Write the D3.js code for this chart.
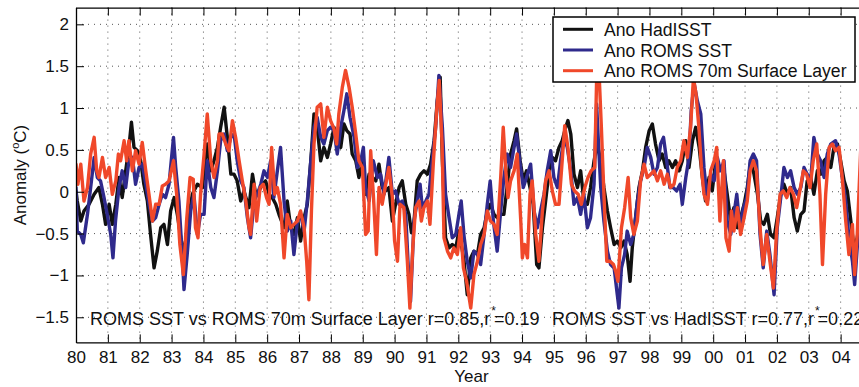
<!DOCTYPE html>
<html>
<head>
<meta charset="utf-8">
<script src="https://cdn.jsdelivr.net/npm/d3@7"></script>
<style>
  html, body { margin: 0; padding: 0; background: #fff; }
  svg { display: block; font-family: "Liberation Sans", Arial, Helvetica, sans-serif; }
</style>
</head>
<body>
<svg id="chart" width="859" height="387"></svg>
<script>
// ---------------- data (decimal year, anomaly °C) ----------------
const hadisst = [
[1980.00,0.01],[1980.04,-0.11],[1980.15,-0.35],[1980.25,-0.23],[1980.41,-0.15],[1980.57,-0.03],[1980.72,0.05],[1980.83,-0.15],[1980.93,-0.39],
[1981.04,-0.15],[1981.14,-0.39],[1981.25,-0.15],[1981.35,0.17],[1981.45,-0.07],[1981.56,0.25],[1981.66,0.53],[1981.74,0.83],[1981.82,0.53],[1981.93,0.49],
[1982.03,0.37],[1982.13,0.09],[1982.24,-0.11],[1982.34,-0.51],[1982.45,-0.91],[1982.55,-0.71],[1982.66,-0.43],[1982.76,-0.39],[1982.87,-0.63],[1982.97,-0.23],
[1983.08,-0.07],[1983.18,-0.27],[1983.29,-0.55],[1983.39,-0.75],[1983.49,-0.43],[1983.65,-0.03],[1983.81,0.09],[1983.97,0.05],
[1984.02,0.25],[1984.12,0.57],[1984.23,0.25],[1984.33,0.37],[1984.44,0.53],[1984.54,0.77],[1984.65,1.01],[1984.75,0.65],[1984.86,0.21],[1984.96,0.21],
[1985.06,0.13],[1985.17,-0.11],[1985.27,0.01],[1985.43,-0.19],[1985.54,0.21],[1985.64,-0.03],[1985.74,0.01],[1985.85,0.09],[1985.95,0.13],
[1986.06,-0.03],[1986.16,-0.07],[1986.27,-0.15],[1986.37,-0.27],[1986.53,-0.43],[1986.63,-0.11],[1986.74,-0.43],[1986.84,-0.51],[1986.95,-0.31],
[1987.05,-0.59],[1987.16,-0.31],[1987.26,-0.15],[1987.37,0.37],[1987.47,0.93],[1987.57,0.77],[1987.68,0.37],[1987.78,0.53],[1987.89,0.41],[1987.99,0.57],
[1988.10,0.77],[1988.20,0.61],[1988.31,0.53],[1988.41,0.81],[1988.50,0.73],[1988.60,0.69],[1988.67,0.45],[1988.78,0.37],[1988.88,0.17],[1988.99,0.37],
[1989.09,-0.03],[1989.20,0.21],[1989.30,0.17],[1989.41,0.13],[1989.51,0.33],[1989.61,0.05],[1989.72,0.01],[1989.82,0.05],[1989.93,-0.35],
[1990.03,-0.15],[1990.14,0.05],[1990.24,0.13],[1990.35,-0.15],[1990.45,-0.27],[1990.53,-0.49],[1990.61,-0.35],[1990.71,0.13],[1990.82,0.21],[1990.92,0.25],
[1991.03,0.21],[1991.13,0.33],[1991.24,0.61],[1991.34,1.09],[1991.43,1.37],[1991.50,0.37],[1991.60,-0.55],[1991.71,-0.67],[1991.81,-0.63],[1991.92,-0.67],
[1992.02,-0.47],[1992.13,-0.71],[1992.18,-0.83],[1992.28,-1.23],[1992.39,-0.79],[1992.49,-0.71],[1992.60,-0.75],[1992.70,-0.51],[1992.81,-0.43],[1992.91,-0.23],
[1993.01,-0.15],[1993.12,-0.27],[1993.22,-0.31],[1993.33,-0.27],[1993.43,-0.27],[1993.54,0.09],[1993.64,0.45],[1993.75,0.61],[1993.83,0.75],[1993.94,0.37],
[1994.04,0.13],[1994.14,0.25],[1994.25,0.05],[1994.35,-0.15],[1994.46,-0.87],[1994.53,-0.91],[1994.64,-0.43],[1994.74,-0.11],[1994.85,0.25],[1994.95,0.41],
[1995.05,0.37],[1995.16,0.53],[1995.26,0.61],[1995.37,0.77],[1995.44,0.85],[1995.53,0.69],[1995.63,0.21],[1995.74,0.05],[1995.84,0.25],[1995.94,-0.11],
[1996.05,-0.15],[1996.15,0.05],[1996.26,0.37],[1996.36,0.57],[1996.47,0.37],[1996.57,0.05],[1996.68,-0.23],[1996.78,-0.43],[1996.89,-0.63],[1996.99,-0.59],
[1997.10,-0.67],[1997.20,-0.59],[1997.30,-0.75],[1997.39,-1.07],[1997.46,-0.67],[1997.55,-0.35],[1997.67,0.05],[1997.78,0.25],[1997.88,0.53],[1997.99,0.73],
[1998.09,0.81],[1998.19,0.57],[1998.30,0.37],[1998.40,0.45],[1998.51,0.29],[1998.61,0.37],[1998.72,0.29],[1998.82,0.37],[1998.93,0.25],
[1999.03,0.37],[1999.14,0.61],[1999.24,0.29],[1999.35,0.61],[1999.45,0.77],[1999.56,0.53],[1999.66,0.17],[1999.76,-0.11],[1999.87,0.17],[1999.97,0.01],
[2000.08,0.37],[2000.18,0.25],[2000.29,0.29],[2000.34,0.25],[2000.44,-0.03],[2000.55,-0.35],[2000.65,-0.19],[2000.76,-0.43],[2000.86,-0.31],[2000.97,-0.15],
[2001.07,0.05],[2001.18,0.37],[2001.28,0.21],[2001.39,-0.03],[2001.49,-0.35],[2001.59,-0.39],[2001.70,-0.27],[2001.80,-0.51],[2001.91,-0.55],
[2002.01,-0.31],[2002.12,-0.03],[2002.22,0.09],[2002.33,-0.03],[2002.43,0.05],[2002.54,-0.31],[2002.64,-0.47],[2002.75,-0.27],[2002.85,-0.23],[2002.95,0.13],
[2003.06,0.17],[2003.16,-0.03],[2003.27,0.25],[2003.37,0.21],[2003.48,0.37],[2003.58,0.41],[2003.69,0.29],[2003.79,0.53],[2003.90,0.57],
[2004.00,0.37],[2004.11,0.13],[2004.21,0.01],[2004.32,-0.35],[2004.42,-0.67],[2004.52,-0.55],[2004.63,-0.30]
];

const romsSST = [
[1980.00,0.05],[1980.04,-0.47],[1980.15,-0.51],[1980.23,-0.61],[1980.36,-0.27],[1980.46,0.05],[1980.57,0.41],[1980.67,0.17],[1980.77,0.13],[1980.88,-0.07],[1980.98,-0.27],
[1981.09,-0.51],[1981.16,-0.79],[1981.24,-0.35],[1981.35,0.05],[1981.45,0.25],[1981.56,0.05],[1981.66,0.37],[1981.77,0.41],[1981.87,0.09],[1981.98,0.29],
[1982.08,0.33],[1982.19,0.09],[1982.29,-0.15],[1982.40,-0.35],[1982.50,-0.31],[1982.61,-0.15],[1982.71,-0.03],[1982.81,-0.07],[1982.92,0.09],
[1983.06,0.65],[1983.13,0.29],[1983.23,-0.11],[1983.34,-0.79],[1983.39,-1.17],[1983.49,-0.75],[1983.60,-0.23],[1983.70,-0.03],[1983.81,-0.51],[1983.91,-0.27],
[1984.02,-0.27],[1984.12,0.37],[1984.23,0.05],[1984.33,-0.07],[1984.44,0.25],[1984.54,0.61],[1984.65,0.69],[1984.75,0.49],[1984.86,0.65],[1984.96,0.69],
[1985.06,0.37],[1985.17,0.13],[1985.27,0.05],[1985.38,-0.31],[1985.48,-0.55],[1985.59,-0.11],[1985.69,-0.03],[1985.80,0.09],[1985.90,0.25],
[1986.01,0.17],[1986.11,0.37],[1986.21,-0.07],[1986.32,0.25],[1986.42,0.53],[1986.53,-0.11],[1986.63,-0.47],[1986.74,-0.35],[1986.84,-0.75],[1986.95,-0.35],
[1987.05,-0.27],[1987.16,-0.47],[1987.26,-0.11],[1987.37,0.37],[1987.47,0.77],[1987.57,0.89],[1987.68,0.65],[1987.78,0.57],[1987.89,0.73],[1987.99,0.77],
[1988.10,0.73],[1988.20,0.45],[1988.31,0.77],[1988.41,0.97],[1988.50,1.17],[1988.60,0.89],[1988.73,0.65],[1988.83,0.29],[1988.94,0.37],
[1989.02,0.53],[1989.09,0.05],[1989.20,-0.11],[1989.33,0.37],[1989.46,0.17],[1989.56,0.21],[1989.67,-0.03],[1989.82,0.41],[1989.93,-0.03],
[1990.03,0.01],[1990.14,-0.15],[1990.24,-0.11],[1990.35,-0.27],[1990.42,-0.83],[1990.50,-1.31],[1990.61,-0.35],[1990.71,-0.11],[1990.80,0.09],[1990.87,-0.19],[1990.98,-0.11],
[1991.08,-0.03],[1991.18,0.37],[1991.29,0.77],[1991.39,1.39],[1991.50,0.77],[1991.60,-0.03],[1991.71,-0.31],[1991.81,-0.55],[1991.92,-0.51],
[1992.02,-0.27],[1992.09,-0.11],[1992.18,-0.53],[1992.28,-0.83],[1992.39,-1.03],[1992.49,-0.71],[1992.60,-0.75],[1992.70,-0.87],[1992.81,-0.51],[1992.91,-0.15],
[1993.00,0.13],[1993.10,-0.35],[1993.22,-0.71],[1993.33,-0.23],[1993.43,0.17],[1993.54,0.45],[1993.64,0.29],[1993.75,0.53],[1993.83,0.69],[1993.94,0.33],
[1994.04,0.05],[1994.14,0.17],[1994.27,0.33],[1994.38,-0.23],[1994.48,-0.43],[1994.58,-0.23],[1994.69,-0.03],[1994.79,0.25],[1994.90,0.49],
[1995.00,0.17],[1995.11,0.05],[1995.21,0.37],[1995.32,0.65],[1995.42,0.53],[1995.53,0.25],[1995.63,-0.15],[1995.74,-0.07],[1995.84,-0.27],[1995.94,-0.03],
[1996.05,-0.43],[1996.15,-0.31],[1996.26,0.09],[1996.34,1.05],[1996.40,0.57],[1996.47,0.05],[1996.57,-0.35],[1996.68,-0.71],[1996.78,-0.87],[1996.89,-0.91],
[1996.99,-1.23],[1997.04,-1.39],[1997.12,-0.91],[1997.22,-0.75],[1997.30,-0.47],[1997.41,-0.63],[1997.51,-0.51],[1997.62,-0.11],[1997.72,0.13],[1997.83,0.29],[1997.93,0.53],
[1998.04,0.41],[1998.14,0.21],[1998.25,0.29],[1998.35,0.57],[1998.44,0.65],[1998.54,0.37],[1998.64,0.05],[1998.75,0.05],[1998.85,0.01],[1998.96,0.09],
[1999.03,-0.15],[1999.14,0.17],[1999.24,0.41],[1999.31,0.97],[1999.40,1.30],[1999.50,1.09],[1999.61,0.93],[1999.71,0.29],[1999.82,-0.11],[1999.92,0.21],
[2000.03,0.13],[2000.13,0.41],[2000.23,0.25],[2000.34,0.37],[2000.44,-0.35],[2000.55,-0.51],[2000.65,-0.27],[2000.74,-0.03],[2000.84,-0.43],[2000.95,-0.19],
[2001.05,-0.07],[2001.16,0.37],[2001.26,0.45],[2001.36,0.37],[2001.47,-0.51],[2001.57,-0.91],[2001.68,-0.47],[2001.78,-0.75],[2001.91,-1.23],
[2002.01,-0.43],[2002.12,-0.07],[2002.22,0.29],[2002.33,0.17],[2002.43,0.25],[2002.54,0.05],[2002.64,-0.03],[2002.75,0.05],[2002.85,0.29],[2002.95,0.21],
[2003.06,0.13],[2003.16,0.65],[2003.27,0.45],[2003.37,0.37],[2003.48,0.17],[2003.58,0.45],[2003.69,0.57],[2003.84,0.61],[2003.95,0.45],
[2004.05,0.17],[2004.16,-0.11],[2004.26,-0.55],[2004.37,-0.83],[2004.44,-1.11],[2004.52,-0.67],[2004.63,-0.30]
];

const roms70m = [
[1980.00,0.33],[1980.06,0.09],[1980.15,0.33],[1980.25,-0.11],[1980.36,0.05],[1980.46,0.45],[1980.57,0.65],[1980.65,0.25],[1980.72,0.17],[1980.83,0.41],[1980.93,0.17],
[1981.04,0.29],[1981.14,-0.03],[1981.25,0.13],[1981.33,0.45],[1981.40,0.37],[1981.51,0.61],[1981.59,0.37],[1981.66,0.61],[1981.77,0.25],[1981.87,0.49],[1981.98,0.33],
[1982.08,0.59],[1982.19,0.25],[1982.29,-0.03],[1982.40,-0.35],[1982.50,-0.15],[1982.61,-0.15],[1982.71,0.07],[1982.81,0.09],[1982.92,0.13],
[1983.06,0.37],[1983.16,-0.03],[1983.26,-0.63],[1983.37,-0.99],[1983.47,-0.35],[1983.58,0.17],[1983.68,0.15],[1983.75,-0.43],[1983.83,-0.55],[1983.91,-0.03],
[1984.02,0.45],[1984.12,0.93],[1984.23,0.37],[1984.33,0.17],[1984.44,0.37],[1984.49,0.69],[1984.59,0.69],[1984.70,0.57],[1984.80,0.49],[1984.91,0.85],
[1985.01,0.65],[1985.12,0.37],[1985.22,0.13],[1985.33,-0.11],[1985.43,-0.43],[1985.48,-0.51],[1985.59,0.09],[1985.67,-0.35],[1985.78,0.05],[1985.88,0.09],[1985.98,-0.07],
[1986.06,-0.15],[1986.14,0.53],[1986.24,-0.03],[1986.32,0.05],[1986.42,-0.15],[1986.53,-0.79],[1986.63,-0.27],[1986.74,-0.43],[1986.84,-0.39],[1986.95,-0.35],
[1987.05,-0.23],[1987.16,-0.43],[1987.24,-0.83],[1987.31,-1.29],[1987.39,-0.23],[1987.47,0.57],[1987.57,1.01],[1987.68,1.05],[1987.78,0.65],[1987.89,1.01],[1987.99,0.85],
[1988.10,0.75],[1988.18,0.57],[1988.25,0.93],[1988.36,1.25],[1988.46,1.45],[1988.57,1.25],[1988.67,1.01],[1988.78,0.69],[1988.88,0.37],[1988.99,0.29],
[1989.09,-0.51],[1989.17,-0.47],[1989.25,0.49],[1989.35,-0.15],[1989.43,-0.75],[1989.51,0.05],[1989.61,-0.15],[1989.72,0.09],[1989.82,0.29],[1989.93,-0.07],
[1990.00,-0.59],[1990.09,-0.83],[1990.17,-0.15],[1990.29,-0.19],[1990.40,-0.83],[1990.48,-1.39],[1990.57,-0.67],[1990.66,-0.19],[1990.77,-0.11],[1990.84,-0.35],[1990.92,-0.19],
[1991.03,-0.11],[1991.11,-0.39],[1991.22,0.37],[1991.32,0.97],[1991.40,1.33],[1991.49,0.57],[1991.55,-0.55],[1991.66,-0.71],[1991.76,-0.79],[1991.86,-0.67],[1991.97,-0.75],
[1992.07,-0.43],[1992.16,-0.91],[1992.26,-1.07],[1992.39,-1.39],[1992.49,-0.99],[1992.60,-0.83],[1992.70,-0.63],[1992.81,-0.51],[1992.91,-0.23],
[1993.01,-0.35],[1993.12,-0.39],[1993.22,-0.51],[1993.33,0.17],[1993.41,0.77],[1993.49,0.25],[1993.56,-0.07],[1993.64,0.13],[1993.75,0.25],[1993.85,0.45],[1993.96,-0.35],
[1994.01,-0.79],[1994.08,-0.63],[1994.17,-0.79],[1994.25,-0.03],[1994.32,0.13],[1994.43,-0.51],[1994.53,-0.83],[1994.64,-0.23],[1994.74,0.13],[1994.85,0.25],[1994.95,0.01],
[1995.05,-0.15],[1995.16,-0.15],[1995.26,0.37],[1995.34,0.79],[1995.44,0.53],[1995.55,0.09],[1995.65,0.01],[1995.76,-0.03],[1995.86,-0.15],[1995.97,0.05],
[1996.07,0.17],[1996.17,0.25],[1996.28,0.29],[1996.37,1.85],[1996.49,0.77],[1996.57,-0.03],[1996.66,-0.83],[1996.76,-0.83],[1996.87,-0.87],[1996.94,-0.95],
[1997.01,-1.07],[1997.12,-0.43],[1997.22,-0.19],[1997.33,0.17],[1997.41,-0.31],[1997.51,-0.51],[1997.62,-0.35],[1997.72,0.13],[1997.83,0.33],[1997.93,0.17],
[1998.04,0.21],[1998.14,0.25],[1998.25,0.13],[1998.35,0.25],[1998.46,0.09],[1998.56,0.21],[1998.66,0.05],[1998.77,0.09],[1998.87,0.29],[1998.98,0.37],
[1999.08,0.61],[1999.19,0.41],[1999.29,0.77],[1999.38,1.36],[1999.46,1.17],[1999.55,0.77],[1999.63,0.29],[1999.71,-0.03],[1999.82,-0.15],[1999.92,0.25],
[2000.03,0.37],[2000.11,0.53],[2000.21,-0.35],[2000.32,0.37],[2000.40,-0.55],[2000.50,-0.71],[2000.57,-0.23],[2000.65,-0.47],[2000.76,-0.19],[2000.86,-0.51],[2000.97,-0.31],
[2001.07,-0.11],[2001.16,0.25],[2001.26,0.37],[2001.36,0.25],[2001.47,-0.43],[2001.57,-0.87],[2001.68,-0.51],[2001.78,-0.83],[2001.89,-1.15],[2001.99,-0.47],
[2002.10,-0.03],[2002.20,0.01],[2002.31,-0.07],[2002.41,0.05],[2002.52,-0.03],[2002.62,-0.19],[2002.72,0.01],[2002.83,0.25],[2002.93,0.21],
[2003.04,0.05],[2003.14,0.37],[2003.25,0.57],[2003.35,-0.03],[2003.43,-0.87],[2003.53,-0.03],[2003.64,0.53],[2003.74,0.57],[2003.84,0.49],[2003.95,0.53],
[2004.05,0.17],[2004.16,-0.35],[2004.26,-0.75],[2004.37,-0.39],[2004.44,-0.99],[2004.52,-0.51],[2004.63,0.50]
];

const seriesNames = ["Ano HadISST", "Ano ROMS SST", "Ano ROMS 70m Surface Layer"];
const seriesColors = ["#111111", "#2f2a8c", "#f0482a"];
const yTickValues = [-1.5, -1, -0.5, 0, 0.5, 1, 1.5, 2];
const yTickLabels = ["\u22121.5", "\u22121", "\u22120.5", "0", "0.5", "1", "1.5", "2"];
const xTickValues = d3.range(1980, 2006);
const xTickLabels = ["80","81","82","83","84","85","86","87","88","89","90","91","92","93","94","95","96","97","98","99","00","01","02","03","04",""];
const annotations = [
  {pre: "ROMS SST vs ROMS 70m Surface Layer r=0.85,r", post: "=0.19"},
  {pre: "ROMS SST vs HadISST r=0.77,r", post: "=0.22"}
];

// ---------------- drawing ----------------
(function draw() {
  const W = 859, H = 387;
  const pL = 76, pT = 7.6, pB = 342.4;
  const svg = d3.select("#chart");

  const x = d3.scaleLinear().domain([1980, 2005]).range([pL, pL + 25 * 31.86]);
  const y = d3.scaleLinear().domain([-1.8, 2.2]).range([pB, pT]);
  const pR = x(2005);

  // grid
  const grid = svg.append("g").attr("stroke", "#555").attr("stroke-width", 1).attr("stroke-dasharray", "1,5");
  grid.selectAll("line.v").data(xTickValues.filter(d => d > 1980 && d < 2005)).join("line").attr("class", "v")
    .attr("x1", d => x(d)).attr("x2", d => x(d)).attr("y1", pT).attr("y2", pB);
  grid.selectAll("line.h").data(yTickValues).join("line").attr("class", "h")
    .attr("x1", pL).attr("x2", pR).attr("y1", d => y(d)).attr("y2", d => y(d));

  // clip
  svg.append("clipPath").attr("id", "clip").append("rect")
    .attr("x", pL).attr("y", pT).attr("width", pR - pL).attr("height", pB - pT);

  const line = d3.line().x(d => x(d[0])).y(d => y(d[1]));
  const allSeries = [hadisst, romsSST, roms70m];
  const lines = svg.append("g").attr("clip-path", "url(#clip)");
  allSeries.forEach((s, i) => {
    lines.append("path").datum(s)
      .attr("d", line)
      .attr("fill", "none")
      .attr("stroke", seriesColors[i])
      .attr("stroke-width", 3.4)
      .attr("stroke-linejoin", "round")
      .attr("stroke-linecap", "round");
  });

  // axes
  const fontSize = 17;
  const xAxis = d3.axisBottom(x).tickValues(xTickValues).tickSizeInner(-8).tickSizeOuter(0)
    .tickPadding(9).tickFormat((d, i) => xTickLabels[i]);
  const gx = svg.append("g").attr("transform", `translate(0,${pB})`).call(xAxis);
  const xTop = d3.axisTop(x).tickValues(xTickValues).tickSizeInner(-8).tickSizeOuter(0).tickFormat("");
  const gt = svg.append("g").attr("transform", `translate(0,${pT})`).call(xTop);
  const yAxis = d3.axisLeft(y).tickValues(yTickValues).tickSizeInner(-8).tickSizeOuter(0)
    .tickPadding(7).tickFormat((d, i) => yTickLabels[i]);
  const gy = svg.append("g").attr("transform", `translate(${pL},0)`).call(yAxis);
  [gx, gt, gy].forEach(g => {
    g.selectAll("path.domain").attr("stroke", "#000").attr("stroke-width", 1.3);
    g.selectAll(".tick line").attr("stroke", "#000").attr("stroke-width", 1);
    g.selectAll(".tick text").attr("font-size", fontSize).attr("fill", "#111")
      .attr("font-family", '"Liberation Sans", Arial, Helvetica, sans-serif');
  });

  // axis titles
  svg.append("text").attr("x", (pL + W) / 2 + 4).attr("y", 382).attr("text-anchor", "middle")
    .attr("font-size", 17).attr("fill", "#111").text("Year");
  const yt = svg.append("text").attr("transform", `translate(26,${(pT + pB) / 2}) rotate(-90)`)
    .attr("text-anchor", "middle").attr("font-size", 17).attr("fill", "#111");
  yt.append("tspan").text("Anomaly (");
  yt.append("tspan").attr("font-size", 11).attr("dy", -7).text("o");
  yt.append("tspan").attr("dy", 7).text("C)");

  // annotations
  const annX = [90, 552];
  annotations.forEach((a, i) => {
    const t = svg.append("text").attr("x", annX[i]).attr("y", 325).attr("font-size", 18).attr("fill", "#111");
    t.append("tspan").text(a.pre);
    t.append("tspan").attr("font-size", 12).attr("dy", -10).attr("dx", 1).text("*");
    t.append("tspan").attr("dy", 10).attr("dx", -2).text(a.post);
  });

  // legend
  const lg = svg.append("g");
  lg.append("rect").attr("x", 553).attr("y", 17).attr("width", 302).attr("height", 65)
    .attr("fill", "#fff").attr("stroke", "#000").attr("stroke-width", 1.5);
  const rowY = [29.3, 50, 70.7];
  seriesNames.forEach((n, i) => {
    lg.append("line").attr("x1", 563).attr("x2", 593).attr("y1", rowY[i]).attr("y2", rowY[i])
      .attr("stroke", seriesColors[i]).attr("stroke-width", 3);
    lg.append("text").attr("x", 604).attr("y", rowY[i] + 6.5).attr("font-size", 17.6).attr("fill", "#111").text(n);
  });
})();
</script>
</body>
</html>
